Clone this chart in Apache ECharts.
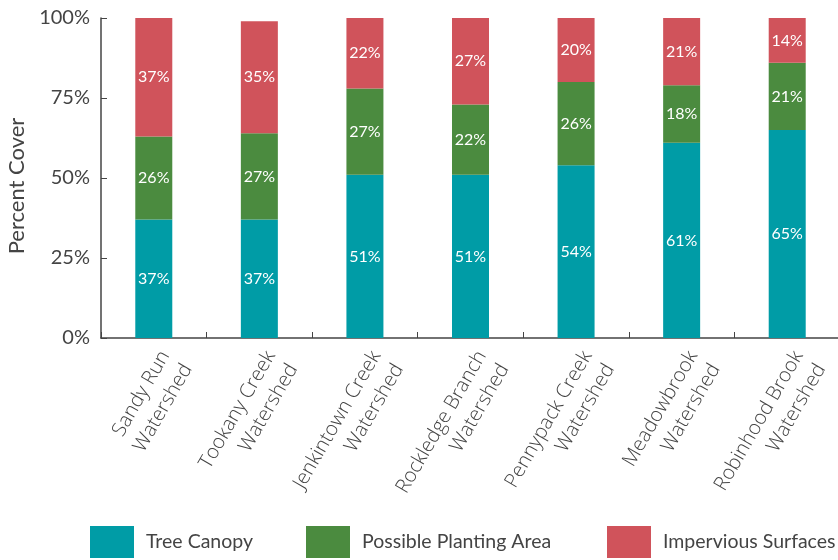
<!DOCTYPE html>
<html><head><meta charset="utf-8">
<script src="https://cdn.jsdelivr.net/npm/echarts@6/dist/echarts.min.js"></script>
<style>html,body{margin:0;padding:0;background:#fff}#c{width:838px;height:560px}</style>
</head><body><div id="c"></div>
<script>
var categories = ['Sandy Run\nWatershed','Tookany Creek\nWatershed','Jenkintown Creek\nWatershed','Rockledge Branch\nWatershed','Pennypack Creek\nWatershed','Meadowbrook\nWatershed','Robinhood Brook\nWatershed'];
var treeCanopy = [37, 37, 51, 51, 54, 61, 65];
var plantingArea = [26, 27, 27, 22, 26, 18, 21];
var impervious = [37, 35, 22, 27, 20, 21, 14];
var seriesNames = ['Tree Canopy', 'Possible Planting Area', 'Impervious Surfaces'];
var colors = ['#009ca6', '#4b8b3f', '#d0535b'];
var yTicks = [0, 25, 50, 75, 100];

var font = 'Lato, "Open Sans", sans-serif';
var labelFont = '"Open Sans", Lato, sans-serif';
function mk(name, data, color) {
  return {
    name: name, type: 'bar', stack: 'a', data: data, barWidth: 37,
    itemStyle: { color: color },
    label: { show: true, position: 'inside', color: '#fff', fontFamily: font, fontSize: 16, formatter: function(p){ return p.value + '%'; } }
  };
}
var legendLefts = [90, 306, 607];
var legends = seriesNames.map(function(n, i){
  return {
    left: legendLefts[i], top: 526, padding: 0, itemWidth: 44, itemHeight: 32, icon: 'rect',
    textStyle: { fontFamily: font, fontSize: 19.5, color: '#444', padding: [4, 0, 0, 7] },
    data: [n]
  };
});
var chart = echarts.init(document.getElementById('c'));
chart.setOption({
  animation: false,
  textStyle: { fontFamily: font },
  grid: { left: 101, width: 739, top: 18, bottom: 222, containLabel: false, outerBoundsMode: 'none' },
  legend: legends,
  xAxis: {
    type: 'category', data: categories,
    axisLine: { lineStyle: { color: '#444', width: 1.5 } },
    axisTick: { show: true, inside: true, length: 6, lineStyle: { color: '#444' } },
    axisLabel: { rotate: 60, interval: 0, margin: 8, fontFamily: labelFont, fontWeight: 300, fontSize: 20, color: '#444', lineHeight: 26, align: 'right', verticalAlign: 'top' }
  },
  yAxis: {
    type: 'value', min: yTicks[0], max: yTicks[yTicks.length-1], interval: 25,
    name: 'Percent Cover', nameLocation: 'middle', nameGap: 73,
    nameTextStyle: { fontFamily: font, fontSize: 22, color: '#444', padding: [0, 16, 0, 0] },
    axisLine: { show: true, lineStyle: { color: '#444', width: 1.5 } },
    axisTick: { show: true, inside: true, length: 6, lineStyle: { color: '#444' } },
    splitLine: { show: false },
    axisLabel: { margin: 11, fontFamily: font, fontSize: 20, color: '#444', formatter: function(v){ return v + '%'; } }
  },
  series: [
    mk(seriesNames[0], treeCanopy, colors[0]),
    mk(seriesNames[1], plantingArea, colors[1]),
    mk(seriesNames[2], impervious, colors[2])
  ]
});
</script></body></html>
